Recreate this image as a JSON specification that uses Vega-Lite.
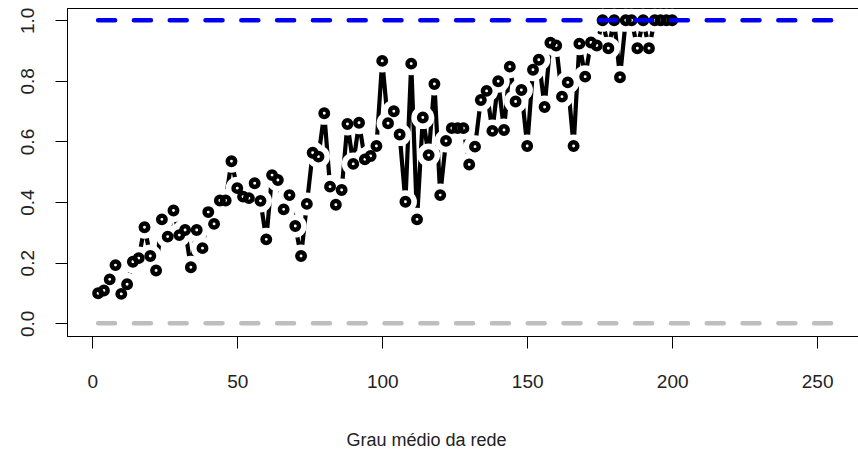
{
  "$schema": "https://vega.github.io/schema/vega-lite/v6.json",
  "width": 791,
  "height": 328,
  "autosize": {"type": "none"},
  "padding": {"left": 67, "top": 8, "right": 0, "bottom": 117},
  "background": "white",
  "config": {
    "view": {"stroke": "black", "strokeWidth": 1},
    "font": "Liberation Sans",
    "axis": {"grid": false, "domainColor": "black", "tickColor": "black", "labelColor": "#222", "titleColor": "#222", "labelFont": "Liberation Sans", "titleFont": "Liberation Sans", "labelFontSize": 19, "titleFontSize": 18, "titleFontWeight": "normal", "labelOverlap": false, "labelFlush": false}
  },
  "datasets": {
    "pts": [
      {"x":2,"y":0.099},{"x":4,"y":0.108},{"x":6,"y":0.145},{"x":8,"y":0.192},{"x":10,"y":0.097},{"x":12,"y":0.129},{"x":14,"y":0.203},{"x":16,"y":0.215},{"x":18,"y":0.317},{"x":20,"y":0.222},
      {"x":22,"y":0.174},{"x":24,"y":0.343},{"x":26,"y":0.286},{"x":28,"y":0.372},{"x":30,"y":0.291},{"x":32,"y":0.308},{"x":34,"y":0.185},{"x":36,"y":0.308},{"x":38,"y":0.248},{"x":40,"y":0.367},
      {"x":42,"y":0.328},{"x":44,"y":0.405},{"x":46,"y":0.405},{"x":48,"y":0.535},{"x":50,"y":0.446},{"x":52,"y":0.418},{"x":54,"y":0.413},{"x":56,"y":0.462},{"x":58,"y":0.404},{"x":60,"y":0.277},
      {"x":62,"y":0.489},{"x":64,"y":0.473},{"x":66,"y":0.376},{"x":68,"y":0.423},{"x":70,"y":0.321},{"x":72,"y":0.222},{"x":74,"y":0.394},{"x":76,"y":0.563},{"x":78,"y":0.550},{"x":80,"y":0.693},
      {"x":82,"y":0.451},{"x":84,"y":0.391},{"x":86,"y":0.440},{"x":88,"y":0.658},{"x":90,"y":0.526},{"x":92,"y":0.662},{"x":94,"y":0.541},{"x":96,"y":0.552},{"x":98,"y":0.585},{"x":100,"y":0.866},
      {"x":102,"y":0.660},{"x":104,"y":0.700},{"x":106,"y":0.623},{"x":108,"y":0.401},{"x":110,"y":0.857},{"x":112,"y":0.343},{"x":114,"y":0.679},{"x":116,"y":0.555},{"x":118,"y":0.790},{"x":120,"y":0.423},
      {"x":122,"y":0.602},{"x":124,"y":0.644},{"x":126,"y":0.644},{"x":128,"y":0.644},{"x":130,"y":0.524},{"x":132,"y":0.583},{"x":134,"y":0.737},{"x":136,"y":0.767},{"x":138,"y":0.635},{"x":140,"y":0.799},
      {"x":142,"y":0.638},{"x":144,"y":0.847},{"x":146,"y":0.732},{"x":148,"y":0.770},{"x":150,"y":0.585},{"x":152,"y":0.837},{"x":154,"y":0.870},{"x":156,"y":0.714},{"x":158,"y":0.926},{"x":160,"y":0.917},
      {"x":162,"y":0.748},{"x":164,"y":0.795},{"x":166,"y":0.585},{"x":168,"y":0.923},{"x":170,"y":0.814},{"x":172,"y":0.927},{"x":174,"y":0.917},{"x":176,"y":1.0},{"x":178,"y":0.908},{"x":180,"y":1.0},
      {"x":182,"y":0.812},{"x":184,"y":1.0},{"x":186,"y":1.0},{"x":188,"y":0.908},{"x":190,"y":1.0},{"x":192,"y":0.908},{"x":194,"y":1.0},{"x":196,"y":1.0},{"x":198,"y":1.0},{"x":200,"y":1.0}
    ],
    "upper": [{"x": 2, "y": 1}, {"x": 255, "y": 1}],
    "lower": [{"x": 2, "y": 0}, {"x": 255, "y": 0}]
  },
  "encoding": {
    "x": {"field": "x", "type": "quantitative", "scale": {"domain": [-8.73, 264.1], "nice": false, "zero": false},
          "axis": {"values": [0, 50, 100, 150, 200, 250], "tickSize": 12, "labelPadding": 24, "title": "Grau médio da rede", "titlePadding": 40, "titleX": 359}},
    "y": {"field": "y", "type": "quantitative", "scale": {"domain": [-0.042, 1.0406], "nice": false, "zero": false},
          "axis": {"values": [0, 0.2, 0.4, 0.6, 0.8, 1.0], "format": ".1f", "labelAngle": -90, "tickSize": 12, "labelPadding": 18, "title": null}}
  },
  "layer": [
    {
      "data": {"name": "pts"},
      "mark": {"type": "line", "color": "black", "strokeWidth": 4.2, "strokeCap": "round", "strokeJoin": "round"}
    },
    {
      "data": {"name": "pts"},
      "mark": {"type": "point", "shape": "circle", "filled": true, "color": "white", "size": 530, "opacity": 1, "strokeWidth": 0}
    },
    {
      "data": {"name": "pts"},
      "mark": {"type": "point", "shape": "circle", "filled": false, "color": "black", "size": 55, "opacity": 1, "strokeWidth": 4.5}
    },
    {
      "data": {"name": "upper"},
      "mark": {"type": "line", "color": "#0000ee", "strokeWidth": 4.5, "strokeDash": [17, 18.8], "strokeCap": "round"}
    },
    {
      "data": {"name": "lower"},
      "mark": {"type": "line", "color": "#bebebe", "strokeWidth": 4.5, "strokeDash": [17, 18.8], "strokeCap": "round"}
    }
  ]
}
